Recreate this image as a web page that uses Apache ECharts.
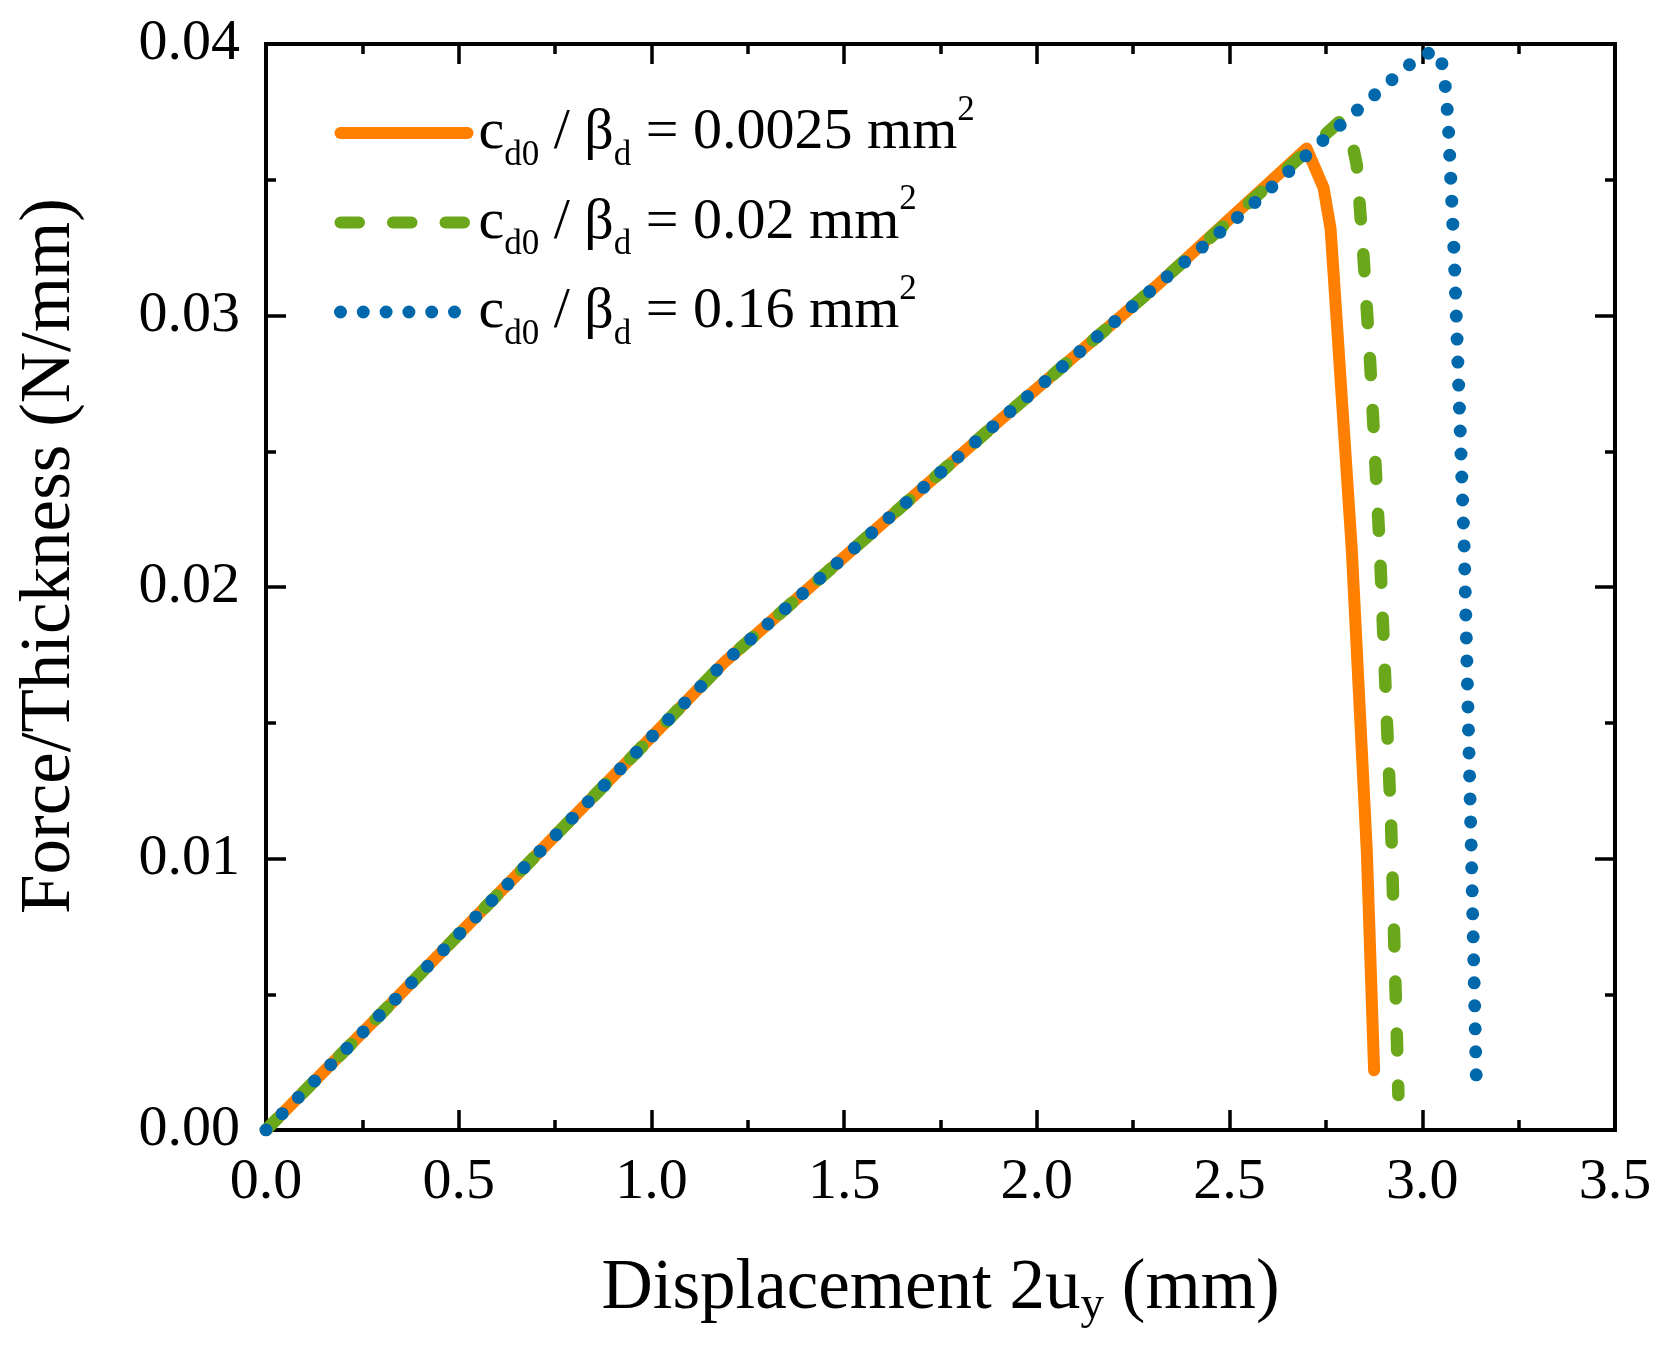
<!DOCTYPE html>
<html>
<head>
<meta charset="utf-8">
<title>Force/Thickness vs Displacement</title>
<script src="https://cdn.jsdelivr.net/npm/echarts@6/dist/echarts.min.js"></script>
<style>
  html, body { margin: 0; padding: 0; background: #fff; }
  #chart { width: 1661px; height: 1348px; }
</style>
</head>
<body>
<div id="chart"></div>
<script>
// values
var names = ['0.0025', '0.02', '0.16'];

var xSolid = [0, 0.300, 0.676, 1.190, 1.905, 2.318, 2.700, 2.744, 2.762, 2.771, 2.817, 2.856, 2.875];
var ySolid = [0, 0.00430, 0.00976, 0.01724, 0.02615, 0.03119, 0.03615, 0.03470, 0.03320, 0.03130, 0.02140, 0.01030, 0.00220];

var xDash = [0, 0.300, 0.676, 1.190, 1.905, 2.318, 2.787, 2.815, 2.830, 2.847, 2.864, 2.890, 2.919, 2.938];
var yDash = [0, 0.00430, 0.00976, 0.01724, 0.02615, 0.03119, 0.03716, 0.03657, 0.03554, 0.03226, 0.02847, 0.02136, 0.01131, 0.00129];

var xDot = [0, 0.300, 0.676, 1.190, 1.905, 2.318, 2.553, 2.724, 2.903, 2.999, 3.044, 3.057, 3.067, 3.083, 3.109, 3.127, 3.140];
var yDot = [0, 0.00430, 0.00976, 0.01724, 0.02615, 0.03119, 0.03400, 0.03622, 0.03846, 0.03963, 0.03971, 0.03889, 0.03720, 0.03215, 0.02136, 0.01042, 0.00199];

var xTicks = [0, 3.5, 0.5];   // min, max, step
var yTicks = [0, 0.04, 0.01];

function pairs(xs, ys) {
  return xs.map(function(x, i) { return [x, ys[i]]; });
}

var font = 'Liberation Serif';
var orange = '#ff8000';
var green = '#6ba71a';
var blue = '#0068ab';

var chart = echarts.init(document.getElementById('chart'), null, { renderer: 'canvas' });

function frameAxis(extra) {
  var base = {
    type: 'value',
    axisLine: { show: true, onZero: false, lineStyle: { color: '#000', width: 4, cap: 'square' } },
    axisTick: { show: true, inside: true, length: 20, lineStyle: { color: '#000', width: 3.5 } },
    minorTick: { show: true, splitNumber: 2, length: 10, lineStyle: { color: '#000', width: 3.5 } },
    splitLine: { show: false },
    nameMoveOverlap: false
  };
  return Object.assign(base, extra);
}

var labelStyle = { color: '#000', fontFamily: font, fontSize: 58, lineHeight: 58 };

chart.setOption({
  animation: false,
  backgroundColor: '#fff',
  grid: { left: 266, right: 46, top: 44, bottom: 218, containLabel: false, outerBoundsMode: 'none' },
  legend: {
    orient: 'vertical',
    left: 334,
    top: 93,
    padding: 0,
    itemWidth: 127,
    itemHeight: 13,
    itemGap: 9.5,
    selectedMode: false,
    itemStyle: { color: 'rgba(0,0,0,0)', borderWidth: 0 },
    data: [
      { name: names[0], lineStyle: { color: orange, width: 12, type: 'solid', cap: 'round' } },
      { name: names[1], lineStyle: { color: green, width: 12, type: [18.5, 34], cap: 'round' } },
      { name: names[2], lineStyle: { color: blue, width: 13, type: [0, 22.8], cap: 'round' } }
    ],
    formatter: function(n) {
      return '{c|c}{s|d0}{m| / β}{s|d}{m| = ' + n + ' mm}{p|2}';
    },
    textStyle: {
      color: '#000',
      fontFamily: font,
      rich: {
        c: { fontFamily: font, fontSize: 58, lineHeight: 80, color: '#000', padding: [0, 0, 0, 6] },
        m: { fontFamily: font, fontSize: 58, lineHeight: 80, color: '#000' },
        s: { fontFamily: font, fontSize: 35, lineHeight: 32, verticalAlign: 'bottom', color: '#000' },
        p: { fontFamily: font, fontSize: 35, lineHeight: 52, verticalAlign: 'top', color: '#000' }
      }
    }
  },
  xAxis: [
    frameAxis({
      position: 'bottom',
      min: xTicks[0], max: xTicks[1], interval: xTicks[2],
      axisLabel: Object.assign({ margin: 24, formatter: function(v) { return v.toFixed(1); } }, labelStyle),
      name: '{a|Displacement 2u}{b|y}{a| (mm)}',
      nameLocation: 'middle',
      nameGap: 119,
      nameTextStyle: {
        rich: {
          a: { fontFamily: font, fontSize: 71, lineHeight: 80, color: '#000' },
          b: { fontFamily: font, fontSize: 47, lineHeight: 40, verticalAlign: 'bottom', color: '#000' }
        }
      }
    }),
    frameAxis({
      position: 'top',
      min: xTicks[0], max: xTicks[1], interval: xTicks[2],
      axisLabel: { show: false }
    })
  ],
  yAxis: [
    frameAxis({
      position: 'left',
      min: yTicks[0], max: yTicks[1], interval: yTicks[2],
      axisLabel: Object.assign({ margin: 26, formatter: function(v) { return v.toFixed(2); } }, labelStyle),
      name: 'Force/Thickness (N/mm)',
      nameLocation: 'middle',
      nameGap: 176,
      nameTextStyle: { color: '#000', fontFamily: font, fontSize: 71, lineHeight: 80, padding: [0, 0, 0, 62] }
    }),
    frameAxis({
      position: 'right',
      min: yTicks[0], max: yTicks[1], interval: yTicks[2],
      axisLabel: { show: false }
    })
  ],
  series: [
    {
      name: names[0], type: 'line', data: pairs(xSolid, ySolid),
      symbol: 'none', smooth: false,
      lineStyle: { color: orange, width: 12, type: 'solid', cap: 'round', join: 'round' },
      itemStyle: { color: orange }
    },
    {
      name: names[1], type: 'line', data: pairs(xDash, yDash),
      symbol: 'none', smooth: false,
      lineStyle: { color: green, width: 12.5, type: [17, 35], cap: 'round', join: 'round' },
      itemStyle: { color: green }
    },
    {
      name: names[2], type: 'line', data: pairs(xDot, yDot),
      symbol: 'none', smooth: false,
      lineStyle: { color: blue, width: 13, type: [0, 23], cap: 'round', join: 'round' },
      itemStyle: { color: blue }
    }
  ]
});
window.addEventListener('resize', function() { chart.resize(); });
</script>
</body>
</html>
